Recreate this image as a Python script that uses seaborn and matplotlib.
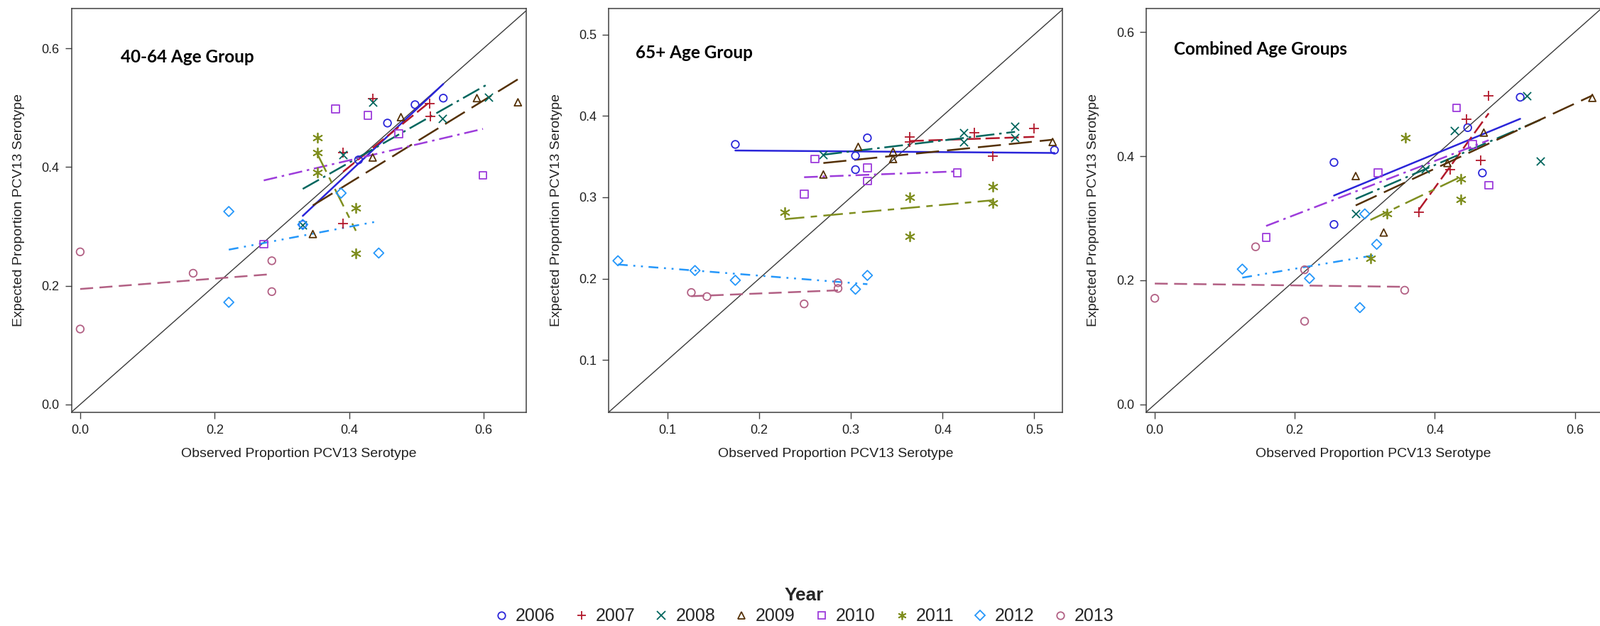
import numpy as np
import matplotlib.pyplot as plt
import seaborn as sns
from matplotlib.lines import Line2D
from matplotlib.markers import MarkerStyle

# Years and observed / expected proportions
years = ['2006', '2007', '2008', '2009', '2010', '2011', '2012', '2013']

# 40-64 age group
obs_4064 = [
    [0.331, 0.414, 0.457, 0.498, 0.540],
    [0.391, 0.391, 0.435, 0.520, 0.521],
    [0.331, 0.391, 0.435, 0.539, 0.607],
    [0.346, 0.435, 0.477, 0.590, 0.651],
    [0.273, 0.380, 0.428, 0.474, 0.599],
    [0.353, 0.353, 0.353, 0.410, 0.410],
    [0.221, 0.221, 0.331, 0.388, 0.444],
    [0.000, 0.000, 0.168, 0.285, 0.285],
]
exp_4064 = [
    [0.303, 0.412, 0.474, 0.505, 0.516],
    [0.305, 0.424, 0.515, 0.507, 0.485],
    [0.302, 0.421, 0.509, 0.482, 0.517],
    [0.287, 0.416, 0.484, 0.516, 0.509],
    [0.270, 0.498, 0.487, 0.456, 0.386],
    [0.449, 0.424, 0.391, 0.331, 0.254],
    [0.325, 0.172, 0.303, 0.356, 0.255],
    [0.257, 0.127, 0.221, 0.242, 0.190],
]

# 65+ age group
obs_65 = [
    [0.174, 0.305, 0.305, 0.318, 0.522],
    [0.364, 0.364, 0.435, 0.455, 0.500],
    [0.270, 0.423, 0.423, 0.479, 0.479],
    [0.270, 0.308, 0.346, 0.346, 0.520],
    [0.249, 0.261, 0.318, 0.318, 0.416],
    [0.228, 0.364, 0.364, 0.455, 0.455],
    [0.046, 0.130, 0.174, 0.305, 0.318],
    [0.126, 0.143, 0.249, 0.286, 0.286],
]
exp_65 = [
    [0.365, 0.351, 0.334, 0.373, 0.358],
    [0.374, 0.368, 0.379, 0.351, 0.385],
    [0.352, 0.379, 0.368, 0.387, 0.373],
    [0.328, 0.362, 0.356, 0.347, 0.368],
    [0.304, 0.347, 0.336, 0.320, 0.330],
    [0.282, 0.300, 0.252, 0.313, 0.293],
    [0.222, 0.210, 0.198, 0.187, 0.204],
    [0.183, 0.178, 0.169, 0.195, 0.188],
]

# combined age groups
obs_all = [
    [0.256, 0.256, 0.447, 0.468, 0.522],
    [0.377, 0.422, 0.445, 0.466, 0.477],
    [0.287, 0.386, 0.428, 0.531, 0.551],
    [0.287, 0.327, 0.418, 0.470, 0.625],
    [0.159, 0.319, 0.431, 0.454, 0.477],
    [0.308, 0.332, 0.358, 0.437, 0.437],
    [0.125, 0.221, 0.293, 0.300, 0.317],
    [0.000, 0.144, 0.214, 0.214, 0.357],
]
exp_all = [
    [0.390, 0.290, 0.446, 0.373, 0.495],
    [0.310, 0.378, 0.459, 0.393, 0.497],
    [0.308, 0.379, 0.441, 0.497, 0.392],
    [0.368, 0.277, 0.389, 0.438, 0.494],
    [0.269, 0.373, 0.478, 0.419, 0.353],
    [0.235, 0.307, 0.430, 0.363, 0.330],
    [0.218, 0.203, 0.156, 0.307, 0.258],
    [0.171, 0.254, 0.217, 0.134, 0.184],
]

# SAS-like group styles
colors = ['#2A25D9', '#B2182B', '#01665E', '#543005', '#9D3CDB', '#7F8E1F', '#2597FA', '#B26084']
markers = ['o', '+', 'x', '^', 's', (6, 2, 0), 'D', 'o']
sizes = [58, 90, 65, 52, 58, 95, 50, 58]
dashes = [None, (8, 2.7), (10.5, 2.7, 1.4, 2.7), (13, 4.5), (7.7, 2.7, 1.4, 2.7),
          (11, 3.6, 3.6, 3.6), (5.5, 3.2, 1.1, 3.2, 1.1, 3.2), (7.3, 3.6)]

sns.set_theme(style='white')
plt.rcParams['font.family'] = ['Liberation Sans Narrow', 'Liberation Sans', 'DejaVu Sans']

fig = plt.figure(figsize=(22.53, 8.82), dpi=100)

frame = '#404040'


def draw_panel(ax, xs, ys, title, lims, ticks, tpos):
    ax.axline((0, 0), (1, 1), color='#3a3a3a', lw=1.0, zorder=1)
    for i in range(len(years)):
        c = colors[i]
        if MarkerStyle(markers[i]).is_filled():
            sns.scatterplot(x=xs[i], y=ys[i], ax=ax, marker=markers[i], s=sizes[i],
                            facecolor='none', edgecolor=c, linewidth=1.3, zorder=3)
        else:
            sns.scatterplot(x=xs[i], y=ys[i], ax=ax, marker=markers[i], s=sizes[i],
                            color=c, linewidth=1.3, zorder=3)
        kws = dict(lw=1.8, zorder=2)
        if dashes[i] is None:
            kws['ls'] = '-'
        else:
            kws['dashes'] = dashes[i]
        sns.regplot(x=xs[i], y=ys[i], ax=ax, scatter=False, ci=None, truncate=True,
                    color=c, line_kws=kws)

    ax.set_xlim(lims[0])
    ax.set_ylim(lims[1])
    ax.set_xticks(ticks)
    ax.set_yticks(ticks)
    ax.xaxis.set_major_formatter(plt.FormatStrFormatter('%.1f'))
    ax.yaxis.set_major_formatter(plt.FormatStrFormatter('%.1f'))
    ax.tick_params(axis='both', direction='out', length=6.3, width=1.0, color=frame,
                   labelsize=13, labelcolor='#202020', pad=6,
                   bottom=True, left=True, top=False, right=False)
    for sp in ax.spines.values():
        sp.set_color(frame)
        sp.set_linewidth(1.1)
    ax.set_xlabel('Observed Proportion PCV13 Serotype', fontsize=14, color='#202020')
    ax.set_ylabel('Expected Proportion PCV13 Serotype', fontsize=14, color='#202020')
    ax.xaxis.set_label_coords(0.5, -0.088)
    ax.yaxis.set_label_coords(-0.103, 0.5)
    ax.grid(False)
    ax.text(tpos[0], tpos[1], title, transform=ax.transAxes, ha='left', va='center',
            fontsize=17.5, fontweight='bold', family=['Lato', 'DejaVu Sans'], color='black')


ax1 = fig.add_axes([0.04474, 0.3413, 0.2840, 0.6451])
ax2 = fig.add_axes([0.3806, 0.3413, 0.2836, 0.6451])
ax3 = fig.add_axes([0.7165, 0.3413, 0.2835, 0.6451])

draw_panel(ax1, obs_4064, exp_4064, '40-64 Age Group',
           ((-0.0128, 0.663), (-0.0134, 0.667)), [0.0, 0.2, 0.4, 0.6], (0.108, 0.879))
draw_panel(ax2, obs_65, exp_65, '65+ Age Group',
           ((0.0362, 0.531), (0.0357, 0.532)), [0.1, 0.2, 0.3, 0.4, 0.5], (0.059, 0.89))
draw_panel(ax3, obs_all, exp_all, 'Combined Age Groups',
           ((-0.012, 0.636), (-0.0128, 0.638)), [0.0, 0.2, 0.4, 0.6], (0.060, 0.899))
ax3.spines['right'].set_visible(False)

# shared legend at the bottom
handles = []
for i in range(len(years)):
    if MarkerStyle(markers[i]).is_filled():
        h = Line2D([], [], ls='none', marker=markers[i], ms=7.5, mfc='none',
                   mec=colors[i], mew=1.3)
    else:
        h = Line2D([], [], ls='none', marker=markers[i], ms=8.5, color=colors[i], mew=1.3)
    handles.append(h)

leg = fig.legend(handles, years, loc='center', bbox_to_anchor=(0.5026, 0.032), ncol=8,
                 frameon=False, title='Year', fontsize=18, handlelength=0.8,
                 handletextpad=0.4, columnspacing=1.08, borderpad=0.1, labelspacing=0.2,
                 title_fontproperties={'weight': 'bold', 'size': 19, 'family': 'Liberation Sans'})

fig.savefig('out.png', dpi=100)
